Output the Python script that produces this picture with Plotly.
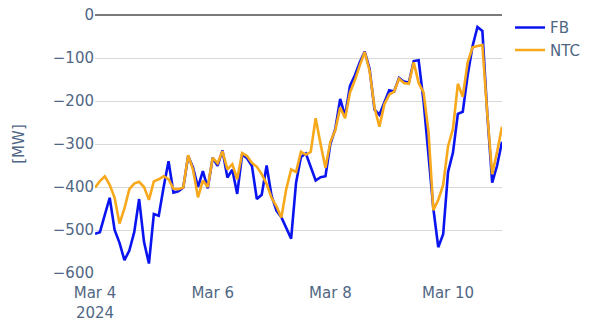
"""FB vs NTC flow chart, Mar 4 - Mar 10 2024."""

import pandas as pd
import plotly.graph_objects as go

# 2-hourly timestamps starting Mar 4 2024 00:00
START = "2024-03-04 00:00"
STEP = "2h"

fb_mw = [
    -509, -505, -465, -425, -500, -530, -570, -548, -505, -428, -528, -578,
    -463, -467, -400, -340, -413, -410, -401, -328, -355, -400, -363, -403,
    -332, -351, -315, -378, -360, -416, -325, -333, -351, -428, -418, -350,
    -420, -455, -470, -495, -520, -390, -330, -322, -355, -385, -377, -375,
    -300, -265, -195, -235, -165, -140, -110, -85, -125, -220, -232, -205,
    -175, -178, -146, -155, -157, -107, -105, -200, -320, -450, -540, -510,
    -365, -320, -230, -225, -140, -72, -28, -37, -230, -390, -350, -295,
]

ntc_mw = [
    -402, -386, -375, -395, -425, -485, -450, -405, -392, -388, -400, -430,
    -387, -382, -375, -382, -404, -405, -401, -326, -360, -424, -385, -400,
    -332, -345, -317, -359, -347, -382, -321, -328, -344, -353, -370, -393,
    -425, -445, -471, -405, -359, -365, -318, -325, -318, -240, -300, -355,
    -295, -268, -215, -240, -180, -152, -117, -86, -130, -215, -260, -208,
    -185, -178, -148, -158, -160, -110, -158, -180, -270, -454, -430, -395,
    -305, -265, -160, -190, -110, -75, -72, -70, -230, -370, -318, -260,
]

times = pd.date_range(START, periods=len(fb_mw), freq=STEP)

FONT = dict(family="DejaVu Sans, Verdana, sans-serif", size=15, color="#506784")

fig = go.Figure()
fig.add_trace(go.Scatter(
    x=times, y=fb_mw, mode="lines", name="FB",
    line=dict(color="#0a14f0", width=2.6),
))
fig.add_trace(go.Scatter(
    x=times, y=ntc_mw, mode="lines", name="NTC",
    line=dict(color="#f7a81b", width=2.6),
))

# the page body shifts the figure by 8px, margins are set with that in mind
fig.update_layout(
    width=590, height=322,
    margin=dict(l=87, r=96, t=7, b=57),
    font=FONT,
    plot_bgcolor="white",
    paper_bgcolor="white",
    legend=dict(
        xref="container", yref="container",
        x=0.978, xanchor="right", y=0.99, yanchor="top",
        font=FONT,
    ),
    xaxis=dict(
        showgrid=False, zeroline=False, automargin=False,
        dtick=2 * 86400000, tick0="2024-03-04",
        ticks="outside", ticklen=6, tickcolor="rgba(0,0,0,0)",
        showline=False,
    ),
    yaxis=dict(
        title=dict(text="[MW]", font=FONT, standoff=24),
        automargin=False, ticklabeloverflow="allow",
        range=[-600, 0], dtick=100,
        gridcolor="#d9d9d9", gridwidth=1,
        zeroline=True, zerolinecolor="#7a7a7a", zerolinewidth=2,
        showline=False,
    ),
)

fig.write_html("out.html")
